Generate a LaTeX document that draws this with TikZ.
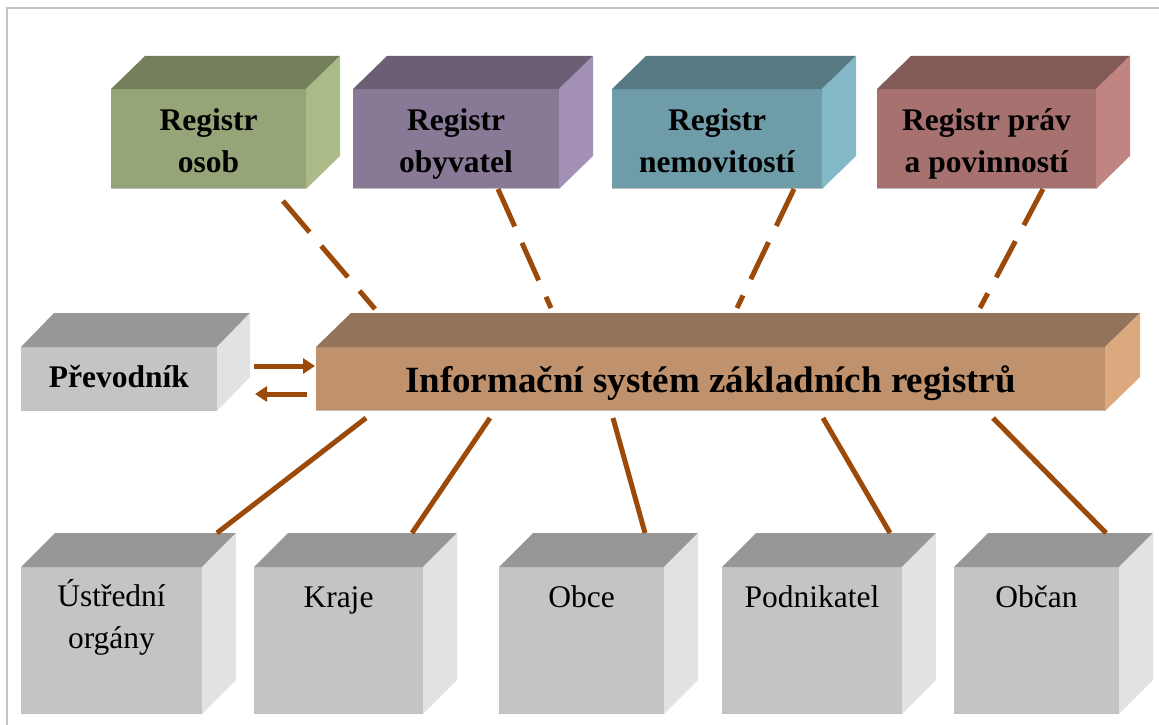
\documentclass[tikz,border=0pt]{standalone}
\usepackage{fontspec}
\setmainfont{Liberation Serif}
\usetikzlibrary{calc,arrows.meta}

% face colours of the blocks
\definecolor{osobF}{HTML}{95A577}\definecolor{osobT}{HTML}{747F5C}\definecolor{osobS}{HTML}{AABB88}
\definecolor{obyvF}{HTML}{887A96}\definecolor{obyvT}{HTML}{6A5F75}\definecolor{obyvS}{HTML}{A291B5}
\definecolor{nemoF}{HTML}{6F9CA9}\definecolor{nemoT}{HTML}{577B85}\definecolor{nemoS}{HTML}{83B8C6}
\definecolor{pravF}{HTML}{A6716F}\definecolor{pravT}{HTML}{825A58}\definecolor{pravS}{HTML}{C08481}
\definecolor{iszF}{HTML}{C0916D}\definecolor{iszT}{HTML}{93735A}\definecolor{iszS}{HTML}{DCA97F}
\definecolor{grayF}{HTML}{C4C4C4}\definecolor{grayT}{HTML}{979797}\definecolor{grayS}{HTML}{E2E2E2}
\definecolor{linkc}{HTML}{9B4A0A}
\definecolor{framec}{HTML}{C4C4C4}

% top and side faces of a block whose front face is node #1
\newcommand\blockfaces[5]{%
  \fill[#4] (#1.north west) -- (#1.north east) -- ++(#2,-#3)
        -- ($(#1.north west)+(#2,-#3)$) -- cycle;
  \fill[#5] (#1.north east) -- ++(#2,-#3) -- ($(#1.south east)+(#2,-#3)$)
        -- (#1.south east) -- cycle;
  \draw[black!25,line width=1pt] ([yshift=0.5pt]#1.south west) -- ([yshift=0.5pt]#1.south east);
}

\tikzset{
  front/.style={rectangle,inner sep=0pt,outer sep=0pt,align=center},
  regbox/.style={front,minimum height=100pt,
    font=\fontsize{31.5}{42}\selectfont\bfseries,text height=66pt,text depth=0pt},
  entbox/.style={front,fill=grayF,minimum height=147pt,
    font=\fontsize{31.5}{42}\selectfont},
  dashlink/.style={draw=linkc,line width=5pt,dash pattern=on 41pt off 18pt},
  solidlink/.style={draw=linkc,line width=5pt},
  flow/.style={draw=linkc,line width=5pt,-{Triangle[length=12pt,width=15pt]}},
}

\begin{document}
\begin{tikzpicture}[x=1pt,y=-1pt]
\useasboundingbox (0,0) rectangle (1159,725);
\clip (0,0) rectangle (1159,725);

% page frame
\draw[framec,line width=2pt] (7,760) -- (7,8) -- (1180,8);

% registers
\node[regbox,fill=osobF,minimum width=195pt] (osob) at (208.5,139) {Registr\\osob};
\node[regbox,fill=obyvF,minimum width=206pt] (obyv) at (456,139) {Registr\\obyvatel};
\node[regbox,fill=nemoF,minimum width=210pt] (nemo) at (717,139) {Registr\\nemovitostí};
\node[regbox,fill=pravF,minimum width=219pt] (prav) at (986.5,139) {Registr práv\\a povinností};
\blockfaces{osob}{34}{33}{osobT}{osobS}
\blockfaces{obyv}{34}{33}{obyvT}{obyvS}
\blockfaces{nemo}{34}{33}{nemoT}{nemoS}
\blockfaces{prav}{34}{33}{pravT}{pravS}

% central system and converter
\node[front,fill=iszF,minimum width=789pt,minimum height=64pt,
  font=\fontsize{37}{44}\selectfont\bfseries,text height=26pt,text depth=0pt]
  (isz) at (710.5,379) {Informační systém základních registrů};
\blockfaces{isz}{35}{34}{iszT}{iszS}
\node[front,fill=grayF,minimum width=196pt,minimum height=64pt,
  font=\fontsize{31.5}{42}\selectfont\bfseries,text height=16pt,text depth=0pt]
  (prev) at (119,379) {Převodník};
\blockfaces{prev}{33}{34}{grayT}{grayS}

% users of the system
\node[entbox,minimum width=181pt,text height=15pt,text depth=0pt] (ustr) at (111.5,640.5) {Ústřední\\orgány};
\node[entbox,minimum width=169pt,text height=0pt,text depth=67pt] (kraje) at (338.5,640.5) {Kraje};
\node[entbox,minimum width=165pt,text height=0pt,text depth=67pt] (obce) at (581.5,640.5) {Obce};
\node[entbox,minimum width=180pt,text height=0pt,text depth=67pt] (podn) at (812,640.5) {Podnikatel};
\node[entbox,minimum width=165pt,text height=0pt,text depth=67pt] (obcan) at (1036.5,640.5) {Občan};
\foreach \n in {ustr,kraje,obce,podn,obcan}{\blockfaces{\n}{34}{34}{grayT}{grayS}}

% register links
\draw[dashlink] ($(osob.south)+(74.5,12)$) -- ($(isz.north)+(-335.5,-38)$);
\draw[dashlink] ($(obyv.south)+(42,0)$) -- ($(isz.north)+(-159.5,-39)$);
\draw[dashlink] ($(nemo.south)+(77,0)$) -- ($(isz.north)+(26.5,-39)$);
\draw[dashlink] ($(prav.south)+(56.5,0)$) -- ($(isz.north)+(269.5,-39)$);

% user links
\draw[solidlink] ($(isz.south)+(-344.5,7)$) -- ($(ustr.north)+(105.5,-34)$);
\draw[solidlink] ($(isz.south)+(-220.5,7)$) -- ($(kraje.north)+(73.5,-34)$);
\draw[solidlink] ($(isz.south)+(-97.5,7)$) -- ($(obce.north)+(63.5,-34)$);
\draw[solidlink] ($(isz.south)+(112.5,7)$) -- ($(podn.north)+(78,-34)$);
\draw[solidlink] ($(isz.south)+(282.5,7)$) -- ($(obcan.north)+(69.5,-34)$);

% converter exchange
\draw[flow] ($(prev.east)+(37,-13)$) -- ($(isz.west)+(-1,-13)$);
\draw[flow] ($(isz.west)+(-9,15)$) -- ($(prev.east)+(38,15)$);
\end{tikzpicture}
\end{document}
